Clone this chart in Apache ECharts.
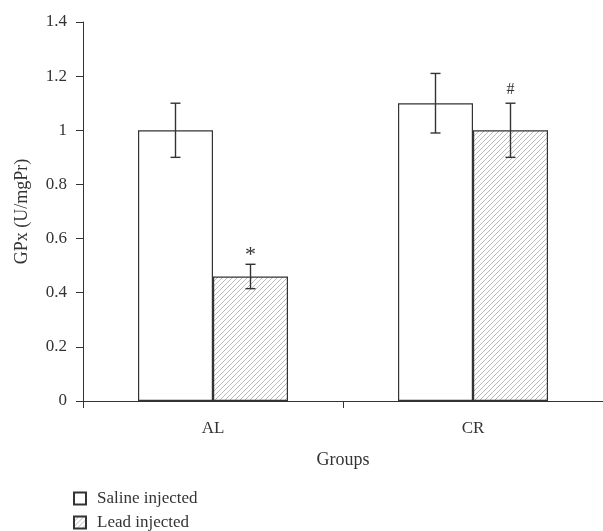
<!DOCTYPE html>
<html>
<head>
<meta charset="utf-8">
<script src="https://cdn.jsdelivr.net/npm/echarts@6/dist/echarts.min.js"></script>
<style>
html,body{margin:0;padding:0;background:#fff;}
#chart{width:603px;height:531px;}
</style>
</head>
<body>
<div id="chart"></div>
<script>
// ---- data ----
const categories = ['AL', 'CR'];
const seriesNames = ['Saline injected', 'Lead injected'];
const salineValues = [1.0, 1.1];
const salineErrors = [0.1, 0.11];
const leadValues = [0.46, 1.0];
const leadErrors = [0.045, 0.1];
const leadMarks = ['*', '#'];
const yTicks = { min: 0, max: 1.4, interval: 0.2 };

// ---- hatch pattern ----
function makeHatch() {
  const s = 5;
  const c = document.createElement('canvas');
  c.width = s; c.height = s;
  const ctx = c.getContext('2d');
  ctx.fillStyle = '#ffffff';
  ctx.fillRect(0, 0, s, s);
  ctx.strokeStyle = '#a8a8a8';
  ctx.lineWidth = 0.8;
  ctx.beginPath();
  ctx.moveTo(-1, s + 1); ctx.lineTo(s + 1, -1);
  ctx.moveTo(-1, 1); ctx.lineTo(1, -1);
  ctx.moveTo(s - 1, s + 1); ctx.lineTo(s + 1, s - 1);
  ctx.stroke();
  return c;
}
const hatch = makeHatch();

const FONT = 'Liberation Serif';
const TXT = '#333333';
const LINE = '#333333';

const chart = echarts.init(document.getElementById('chart'), null, { renderer: 'canvas' });

function errorData(values, errors) {
  return values.map((v, i) => [i, v, errors[i]]);
}

function makeErrorSeries(values, errors, seriesIndex, marks) {
  return {
    type: 'custom',
    name: 'err' + seriesIndex,
    data: errorData(values, errors),
    z: 10,
    silent: true,
    renderItem: function (params, api) {
      const xi = api.value(0);
      const v = api.value(1);
      const e = api.value(2);
      const base = api.coord([xi, v]);
      const barW = 75;
      const offset = seriesIndex === 0 ? -barW / 2 : barW / 2;
      const cx = base[0] + offset;
      const top = api.coord([xi, v + e])[1];
      const bot = api.coord([xi, v - e])[1];
      const cap = 5;
      const style = { stroke: LINE, lineWidth: 1.4 };
      const children = [
        { type: 'line', shape: { x1: cx, y1: top, x2: cx, y2: bot }, style },
        { type: 'line', shape: { x1: cx - cap, y1: top, x2: cx + cap, y2: top }, style },
        { type: 'line', shape: { x1: cx - cap, y1: bot, x2: cx + cap, y2: bot }, style }
      ];
      if (marks && marks[params.dataIndex]) {
        const m = marks[params.dataIndex];
        children.push({
          type: 'text',
          style: {
            text: m,
            x: cx, y: m === '*' ? top + 2 : top - 5,
            textAlign: 'center', textVerticalAlign: 'bottom',
            font: (m === '*' ? '22px "' : '16px "') + FONT + '"', fill: TXT
          }
        });
      }
      return { type: 'group', children };
    }
  };
}

const option = {
  animation: false,
  backgroundColor: '#ffffff',
  grid: { left: 83, right: 0, top: 22, bottom: 130 },
  legend: {
    orient: 'vertical',
    left: 68,
    top: 485,
    height: 60,
    itemWidth: 12,
    itemHeight: 12,
    itemGap: 7,
    icon: 'rect',
    data: seriesNames,
    textStyle: { fontFamily: FONT, fontSize: 17, color: TXT, padding: [0, 0, 0, 6] }
  },
  xAxis: {
    type: 'category',
    data: categories,
    name: 'Groups',
    nameLocation: 'middle',
    nameGap: 50,
    nameTextStyle: { fontFamily: FONT, fontSize: 18, color: TXT },
    axisLine: { lineStyle: { color: LINE, width: 1 } },
    axisTick: { show: true, length: 7, lineStyle: { color: LINE } },
    axisLabel: { fontFamily: FONT, fontSize: 17, color: TXT, margin: 19 },
    splitLine: { show: false }
  },
  yAxis: {
    type: 'value',
    min: yTicks.min,
    max: yTicks.max,
    interval: yTicks.interval,
    name: 'GPx (U/mgPr)',
    nameLocation: 'middle',
    nameGap: 52,
    nameRotate: 90,
    nameTextStyle: { fontFamily: FONT, fontSize: 18, color: TXT },
    axisLine: { show: true, lineStyle: { color: LINE, width: 1 } },
    axisTick: { show: true, length: 7, lineStyle: { color: LINE } },
    axisLabel: { fontFamily: FONT, fontSize: 17, color: TXT, margin: 16 },
    splitLine: { show: false }
  },
  series: [
    {
      name: seriesNames[0],
      type: 'bar',
      data: salineValues,
      barWidth: 75,
      barGap: '0%',
      itemStyle: { color: '#ffffff', borderColor: LINE, borderWidth: 1.2 }
    },
    {
      name: seriesNames[1],
      type: 'bar',
      data: leadValues,
      barWidth: 75,
      barGap: '0%',
      itemStyle: { color: { image: hatch, repeat: 'repeat' }, borderColor: LINE, borderWidth: 1.2 }
    },
    makeErrorSeries(salineValues, salineErrors, 0, null),
    makeErrorSeries(leadValues, leadErrors, 1, leadMarks)
  ]
};
chart.setOption(option);
</script>
</body>
</html>
